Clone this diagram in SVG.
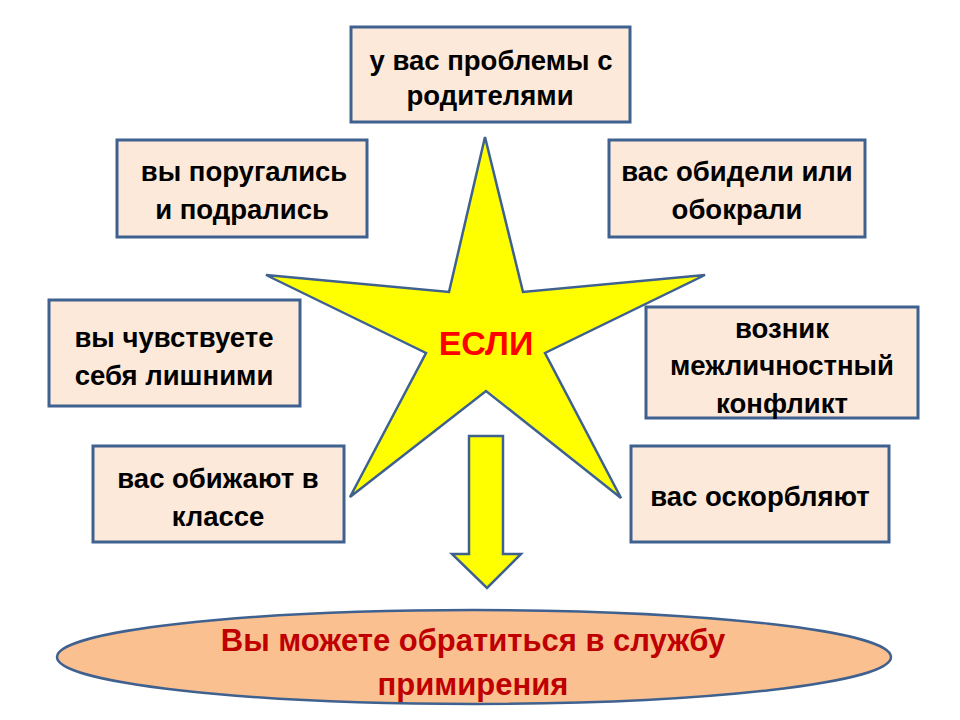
<svg xmlns="http://www.w3.org/2000/svg" width="960" height="720" viewBox="0 0 960 720">
<style>
.box{fill:#FDE9D9;stroke:#3F6190;stroke-width:3}
.t{font-family:"Liberation Sans",Arial,sans-serif;font-weight:bold;font-size:27.5px;fill:#000;text-anchor:middle}
.r{font-family:"Liberation Sans",Arial,sans-serif;font-weight:bold;text-anchor:middle}
</style>
<rect width="960" height="720" fill="#fff"/>
<g id="star">
<polygon points="485,137 523,292 705,275 545,353 621,498 486,391 350,497 426,353 266,275 449,292" fill="#FFFF00" stroke="#3F6190" stroke-width="2.5" stroke-linejoin="miter"/>
<text class="r" x="486" y="355" font-size="34" fill="#FF0000">ЕСЛИ</text>
</g>
<g id="connectors">
<polygon points="469,436 503,436 503,554 521,554 487,588 452,554 469,554" fill="#FFFF00" stroke="#3F6190" stroke-width="2.5"/>
</g>
<g id="n1">
<rect class="box" x="351" y="27" width="279" height="95"/>
<text class="t" x="491" y="70">у вас проблемы с</text>
<text class="t" x="490" y="105">родителями</text>
</g>
<g id="n2">
<rect class="box" x="117" y="140" width="250" height="97"/>
<text class="t" x="244" y="181">вы поругались</text>
<text class="t" x="242" y="219">и подрались</text>
</g>
<g id="n3">
<rect class="box" x="609" y="140" width="256" height="97"/>
<text class="t" x="737" y="181">вас обидели или</text>
<text class="t" x="737" y="219">обокрали</text>
</g>
<g id="n4">
<rect class="box" x="49" y="300" width="251" height="106"/>
<text class="t" x="174" y="347">вы чувствуете</text>
<text class="t" x="174" y="385">себя лишними</text>
</g>
<g id="n5">
<rect class="box" x="646" y="307" width="272" height="111"/>
<text class="t" x="782" y="338">возник</text>
<text class="t" x="782" y="375">межличностный</text>
<text class="t" x="782" y="413">конфликт</text>
</g>
<g id="n6">
<rect class="box" x="93" y="446" width="251" height="96"/>
<text class="t" x="218" y="488">вас обижают в</text>
<text class="t" x="218" y="526">классе</text>
</g>
<g id="n7">
<rect class="box" x="631" y="446" width="258" height="96"/>
<text class="t" x="760" y="506">вас оскорбляют</text>
</g>
<g id="result">
<ellipse cx="474" cy="657" rx="417" ry="47" fill="#FAC090" stroke="#3F6190" stroke-width="2.5"/>
<text class="r" x="473" y="651" font-size="31" fill="#C00000">Вы можете обратиться в службу</text>
<text class="r" x="473" y="695" font-size="31" fill="#C00000">примирения</text>
</g>
</svg>
